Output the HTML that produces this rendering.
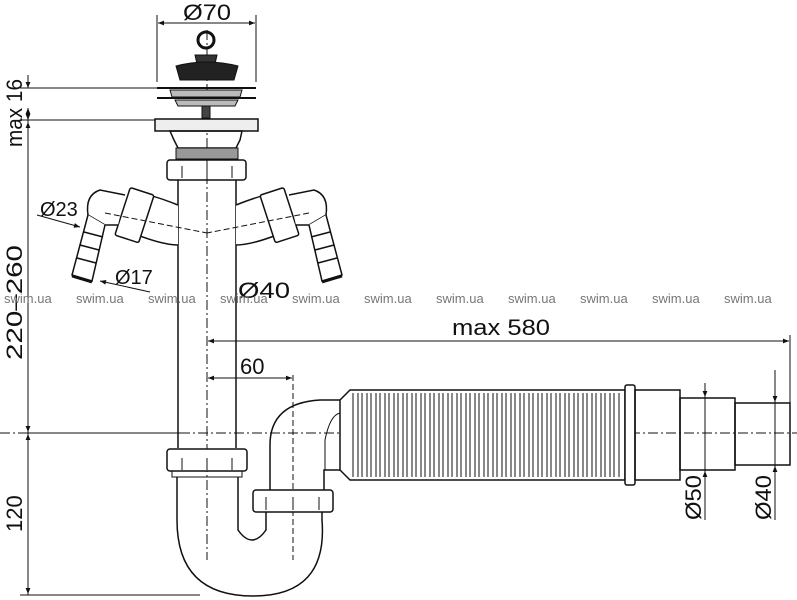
<!DOCTYPE html>
<html><head><meta charset="utf-8"><style>
body{margin:0;background:#fff}
svg{display:block}
text{font-family:"Liberation Sans",sans-serif;fill:#111}
</style></head><body>
<svg width="797" height="600" viewBox="0 0 797 600" xmlns="http://www.w3.org/2000/svg">
<defs>
<marker id="a" viewBox="0 0 10 10" refX="10" refY="5" markerWidth="8" markerHeight="6" orient="auto-start-reverse"><path d="M0,1L10,5L0,9z" fill="#111"/></marker>
</defs>
<g stroke="#111" fill="none" stroke-width="1">
<line x1="207" y1="30" x2="207" y2="560" stroke-dasharray="10,3,2,3"/>
<line x1="0" y1="433" x2="797" y2="433" stroke-dasharray="10,3,2,3"/>
<line x1="293" y1="375" x2="293" y2="560" stroke-dasharray="6,3"/>
<line x1="157" y1="15" x2="157" y2="82"/><line x1="256" y1="15" x2="256" y2="82"/>
<line x1="158" y1="23" x2="255" y2="23" marker-start="url(#a)" marker-end="url(#a)"/>
<line x1="20" y1="88" x2="160" y2="88"/><line x1="20" y1="120" x2="155" y2="120"/>
<line x1="20" y1="433" x2="180" y2="433"/><line x1="20" y1="595" x2="200" y2="595"/>
<line x1="28" y1="75" x2="28" y2="88" marker-end="url(#a)"/>
<line x1="28" y1="120" x2="28" y2="595" />
<line x1="28" y1="108" x2="28" y2="120" marker-start="url(#a)" marker-end="url(#a)"/>
<line x1="28" y1="122" x2="28" y2="432" marker-start="url(#a)" marker-end="url(#a)"/>
<line x1="28" y1="434" x2="28" y2="594" marker-start="url(#a)" marker-end="url(#a)"/>
<line x1="208" y1="341" x2="789" y2="341" marker-start="url(#a)" marker-end="url(#a)"/>
<line x1="790" y1="335" x2="790" y2="430"/>
<line x1="208" y1="378" x2="292" y2="378" marker-start="url(#a)" marker-end="url(#a)"/>
<circle cx="206" cy="40" r="8" stroke-width="3"/>
<path d="M195,55 L217,55 L215,64 L197,64z" fill="#333"/>
<path d="M176,66 Q206,58 238,66 L234,80 L180,80z" fill="#222"/>
<line x1="157" y1="88" x2="256" y2="88" stroke-width="2"/>
<path d="M170,90 L242,90 L240,97 L172,97z" fill="#bbb"/>
<line x1="157" y1="98" x2="256" y2="98" stroke-width="2"/>
<path d="M175,100 L238,100 L235,106 L178,106z" fill="#bbb"/>
<rect x="202" y="106" width="8" height="12" fill="#444"/>
<rect x="155" y="119" width="103" height="12" fill="#eee" stroke-width="1.5"/>
<path d="M170,131 L242,131 L240,140 L236,148 L178,148 L174,140z" stroke-width="1.5"/>
<rect x="176" y="148" width="62" height="11" fill="#999"/>
<rect x="167" y="160" width="79" height="20" rx="3" stroke-width="1.5"/>
<line x1="182" y1="166" x2="182" y2="178"/><line x1="207" y1="166" x2="207" y2="178"/><line x1="232" y1="166" x2="232" y2="178"/>
<line x1="178" y1="180" x2="178" y2="448" stroke-width="1.5"/>
<line x1="236" y1="180" x2="236" y2="448" stroke-width="1.5"/>
<g id="br" stroke-width="1.5">
<path d="M178,205 Q140,190 135,195 L125,230 Q160,245 178,245" fill="#fff"/>
<rect x="122" y="190" width="25" height="50" rx="2" transform="rotate(18 134 215)" fill="#fff"/>
<path d="M125,195 L100,190 Q85,195 88,215 L105,225 L118,225" fill="#fff"/>
<path d="M88,215 L72,275 L92,281 L105,225" fill="#fff"/>
<line x1="84" y1="232" x2="103" y2="237"/><line x1="80" y1="245" x2="99" y2="250"/><line x1="77" y1="258" x2="96" y2="263"/>
<line x1="72" y1="276" x2="92" y2="282" stroke-width="3"/>
</g>
<use href="#br" transform="translate(414,0) scale(-1,1)"/>
<line x1="105" y1="213" x2="207" y2="233" stroke-dasharray="6,3"/><line x1="309" y1="213" x2="207" y2="233" stroke-dasharray="6,3"/>
<line x1="37" y1="215" x2="80" y2="227" marker-end="url(#a)"/>
<line x1="150" y1="292" x2="100" y2="281" marker-end="url(#a)"/>
<rect x="167" y="449" width="80" height="22" rx="3" stroke-width="1.5" fill="#fff"/>
<line x1="182" y1="458" x2="182" y2="470"/><line x1="207" y1="458" x2="207" y2="470"/><line x1="232" y1="458" x2="232" y2="470"/>
<rect x="172" y="471" width="70" height="6"/>
<path d="M177,477 L177,520 Q177,596 253,596 Q328,596 322,520 L322,512" stroke-width="1.5"/>
<path d="M238,477 L238,530 Q252,550 266,530 L266,512" stroke-width="1.5"/>
<rect x="253" y="490" width="80" height="22" rx="3" stroke-width="1.5" fill="#fff"/>
<line x1="266" y1="497" x2="266" y2="510"/><line x1="293" y1="497" x2="293" y2="510"/><line x1="319" y1="497" x2="319" y2="510"/>
<path d="M270,490 L270,445 Q270,403 320,400 L340,400" stroke-width="1.5"/>
<path d="M324,490 L324,470 L340,470" stroke-width="1.5"/>
<path d="M325,470 L325,440 Q330,415 340,413" stroke-width="1"/>
<path d="M340,400 L350,390 L625,390 L625,480 L350,480 L340,470z" fill="#fff" stroke-width="1.5"/>
<g stroke-width="1">
<path d="M353,393 v84 M358,393 v84 M362,393 v84 M367,393 v84 M371,393 v84 M376,393 v84 M380,393 v84 M385,393 v84 M389,393 v84 M394,393 v84 M398,393 v84 M403,393 v84 M407,393 v84 M412,393 v84 M416,393 v84 M421,393 v84 M425,393 v84 M430,393 v84 M434,393 v84 M439,393 v84 M443,393 v84 M448,393 v84 M452,393 v84 M457,393 v84 M461,393 v84 M466,393 v84 M470,393 v84 M475,393 v84 M479,393 v84 M484,393 v84 M488,393 v84 M493,393 v84 M497,393 v84 M502,393 v84 M506,393 v84 M511,393 v84 M515,393 v84 M520,393 v84 M524,393 v84 M529,393 v84 M533,393 v84 M538,393 v84 M542,393 v84 M547,393 v84 M551,393 v84 M556,393 v84 M560,393 v84 M565,393 v84 M569,393 v84 M574,393 v84 M578,393 v84 M583,393 v84 M587,393 v84 M592,393 v84 M596,393 v84 M601,393 v84 M605,393 v84 M610,393 v84 M614,393 v84 M619,393 v84"/>
</g>
<rect x="625" y="385" width="10" height="100" rx="2" stroke-width="1.5" fill="#fff"/>
<rect x="635" y="390" width="45" height="90" stroke-width="1.5"/>
<rect x="680" y="398" width="55" height="72" stroke-width="1.5"/>
<rect x="735" y="403" width="55" height="62" stroke-width="1.5"/>
<line x1="705" y1="383" x2="705" y2="397" marker-end="url(#a)"/>
<line x1="705" y1="520" x2="705" y2="471" marker-end="url(#a)"/>
<line x1="775" y1="370" x2="775" y2="402" marker-end="url(#a)"/>
<line x1="775" y1="520" x2="775" y2="466" marker-end="url(#a)"/>
<line x1="705" y1="397" x2="705" y2="471"/>
<line x1="775" y1="402" x2="775" y2="466"/>
</g>
<g font-size="22">
<text x="183" y="20" textLength="48" lengthAdjust="spacingAndGlyphs">Ø70</text>
<text x="452" y="335" textLength="98" lengthAdjust="spacingAndGlyphs">max 580</text>
<text x="240" y="374">60</text>
<text x="238" y="298" textLength="52" lengthAdjust="spacingAndGlyphs">Ø40</text>
<text x="40" y="216" font-size="20">Ø23</text>
<text x="115" y="284" font-size="20">Ø17</text>
<text transform="translate(22,147) rotate(-90)" textLength="68" lengthAdjust="spacingAndGlyphs">max 16</text>
<text transform="translate(22,360) rotate(-90)" textLength="115" lengthAdjust="spacingAndGlyphs">220–260</text>
<text transform="translate(22,532) rotate(-90)">120</text>
<text transform="translate(701,520) rotate(-90)" textLength="45" lengthAdjust="spacingAndGlyphs">Ø50</text>
<text transform="translate(771,520) rotate(-90)" textLength="45" lengthAdjust="spacingAndGlyphs">Ø40</text>
</g>
<g font-size="13">
<text x="4" y="303" style="fill:#777">swim.ua</text><text x="76" y="303" style="fill:#777">swim.ua</text><text x="148" y="303" style="fill:#777">swim.ua</text><text x="220" y="303" style="fill:#777">swim.ua</text><text x="292" y="303" style="fill:#777">swim.ua</text><text x="364" y="303" style="fill:#777">swim.ua</text><text x="436" y="303" style="fill:#777">swim.ua</text><text x="508" y="303" style="fill:#777">swim.ua</text><text x="580" y="303" style="fill:#777">swim.ua</text><text x="652" y="303" style="fill:#777">swim.ua</text><text x="724" y="303" style="fill:#777">swim.ua</text>
</g>
</svg>
</body></html>
